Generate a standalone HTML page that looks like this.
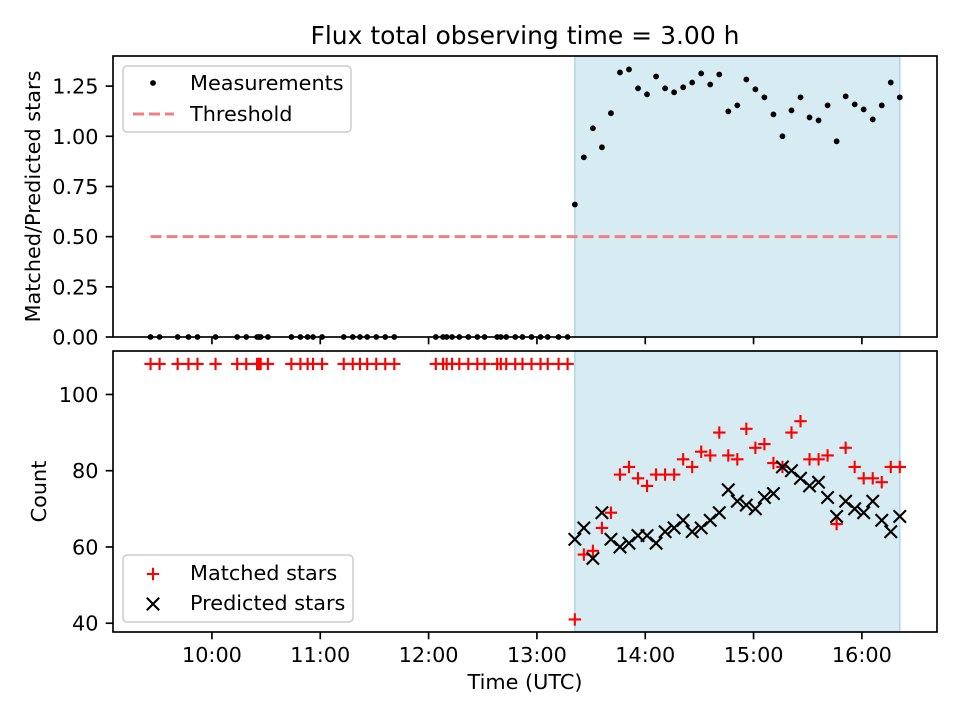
<!DOCTYPE html>
<html><head><meta charset="utf-8"><style>
body{margin:0;background:#fff}
svg{display:block;font-family:"DejaVu Sans","Liberation Sans",sans-serif}
</style></head><body>
<svg id="c" width="960" height="720" viewBox="0 0 960 720"></svg>
<script>
// minutes after 10:00
const earlyTimes=[-34,-29,-19,-13,-8,2,14,19,25,26,27,31,44,49,53,56,61,73,78,82,86,91,96,101,124,128,130,133,137,142,147,151,158,160,163,168,172,177,182,186,192,197];
const earlyRatio=earlyTimes.map(()=>0);
const earlyMatched=earlyTimes.map(()=>108);
const obsTimes=[201,206,211,216,221,226,231,236,241,246,251,256,261,266,271,276,281,286,291,296,301,306,311,316,321,326,331,336,341,346,351,356,361,366,371,376,381];
const obsRatio=[0.66,0.895,1.04,0.945,1.115,1.318,1.333,1.239,1.209,1.298,1.239,1.219,1.244,1.268,1.313,1.258,1.308,1.124,1.154,1.283,1.234,1.194,1.109,1.0,1.129,1.194,1.094,1.079,1.154,0.975,1.199,1.159,1.134,1.084,1.154,1.268,1.194];
const obsMatched=[41,58,59,65,69,79,81,78,76,79,79,79,83,81,85,84,90,84,83,91,86,87,82,81,90,93,83,83,84,66,86,81,78,78,77,81,81];
const obsPredicted=[62,65,57,69,62,60,61,63,63,61,64,65,67,64,65,67,69,75,72,71,70,73,74,81,80,78,76,77,73,68,72,70,69,72,67,64,68];
const xTickLabels=["10:00","11:00","12:00","13:00","14:00","15:00","16:00"];
const xTickVals=[0,60,120,180,240,300,360];
const topTicks=[0,0.25,0.5,0.75,1.0,1.25];
const botTicks=[40,60,80,100];
const threshold=0.5;
const shadeRange=[201,381];
const threshRange=[-34,381];

const NS="http://www.w3.org/2000/svg";
const svg=document.getElementById('c');
const FS=20.8;
function el(t,a,p){const e=document.createElementNS(NS,t);for(const k in a)e.setAttribute(k,a[k]);(p||svg).appendChild(e);return e;}
const L=113,R=937;
const xS=m=>L+(m-(-54.8))/(401.6+54.8)*(R-L);
const T={t:56,b:337,min:0,max:1.4};
const B={t:351,b:632,min:37.7,max:111.4};
const yS=(p,v)=>p.b-(v-p.min)/(p.max-p.min)*(p.b-p.t);

function panel(p,name,ticks,fmt,ylabel,ylx){
  const g=el('g',{});
  
  
  const sh=el('rect',{x:xS(shadeRange[0]),y:p.t,width:xS(shadeRange[1])-xS(shadeRange[0]),height:p.b-p.t,fill:'#add8e6','fill-opacity':0.5,stroke:'#add8e6','stroke-width':1.5},g);
  
  
  ticks.forEach(v=>{const y=yS(p,v);
    el('line',{x1:L-7.3,x2:L,y1:y,y2:y,stroke:'#000','stroke-width':1.67},g);
    const t=el('text',{x:L-14.5,y:y+7.5,'text-anchor':'end','font-size':FS},g);t.textContent=fmt(v);
    
    });
  xTickVals.forEach(v=>{const x=xS(v);el('line',{x1:x,x2:x,y1:p.b,y2:p.b+7.3,stroke:'#000','stroke-width':1.67},g);});
  const yl=el('text',{x:0,y:0,'text-anchor':'middle','font-size':FS,transform:`translate(${ylx},${(p.t+p.b)/2}) rotate(-90)`},g);
  yl.textContent=ylabel;
  
  
  return g;
}
const gt=panel(T,'top-panel',topTicks,v=>v.toFixed(2),'Matched/Predicted stars',40);
const gb=panel(B,'bottom-panel',botTicks,v=>String(v),'Count',46);

const th=el('line',{x1:xS(threshRange[0]),x2:xS(threshRange[1]),y1:yS(T,threshold),y2:yS(T,threshold),stroke:'#f08080','stroke-width':3,'stroke-dasharray':'11,5'},gt);


const allT=earlyTimes.concat(obsTimes);
const allR=earlyRatio.concat(obsRatio);
allT.forEach((m,i)=>{const d=el('circle',{cx:xS(m),cy:yS(T,allR[i]),r:2.9,fill:'#000'},gt);
  
  });
function plus(x,y,g){return el('path',{d:`M${x-6.2},${y}H${x+6.2}M${x},${y-6.2}V${y+6.2}`,stroke:'#f00','stroke-width':2.1,fill:'none'},g);}
function cross(x,y,g){return el('path',{d:`M${x-6.2},${y-6.2}L${x+6.2},${y+6.2}M${x-6.2},${y+6.2}L${x+6.2},${y-6.2}`,stroke:'#000','stroke-width':2.1,fill:'none'},g);}
const allM=earlyMatched.concat(obsMatched);
allT.forEach((m,i)=>{const p=plus(xS(m),yS(B,allM[i]),gb);
  
  });
obsTimes.forEach((m,i)=>{const p=cross(xS(m),yS(B,obsPredicted[i]),gb);
  
  });

[T,B].forEach(p=>el('rect',{x:L,y:p.t,width:R-L,height:p.b-p.t,fill:'none',stroke:'#000','stroke-width':1.67}));
xTickVals.forEach((v,i)=>{const t=el('text',{x:xS(v),y:662,'text-anchor':'middle','font-size':FS});t.textContent=xTickLabels[i];
  
  });
const xt=el('text',{x:(L+R)/2,y:689,'text-anchor':'middle','font-size':FS});xt.textContent='Time (UTC)';


const ti=el('text',{x:(L+R)/2,y:44,'text-anchor':'middle','font-size':25});ti.textContent='Flux total observing time = 3.00 h';



const lg1=el('g',{});


el('rect',{x:123,y:66,width:228,height:66,rx:4,fill:'#fff','fill-opacity':0.8,stroke:'#cccccc','stroke-width':1.5},lg1);
el('circle',{cx:153,cy:83,r:2.9,fill:'#000'},lg1);
let t=el('text',{x:190,y:90,'font-size':FS},lg1);t.textContent='Measurements';
el('line',{x1:133,x2:174,y1:114,y2:114,stroke:'#f08080','stroke-width':3,'stroke-dasharray':'11,5'},lg1);
t=el('text',{x:190,y:121,'font-size':FS},lg1);t.textContent='Threshold';
const lg2=el('g',{});


el('rect',{x:123,y:555,width:230,height:67,rx:4,fill:'#fff','fill-opacity':0.8,stroke:'#cccccc','stroke-width':1.5},lg2);
plus(153,574,lg2);
t=el('text',{x:190,y:580,'font-size':FS},lg2);t.textContent='Matched stars';
cross(153,604,lg2);
t=el('text',{x:190,y:610,'font-size':FS},lg2);t.textContent='Predicted stars';
</script>
</body></html>
